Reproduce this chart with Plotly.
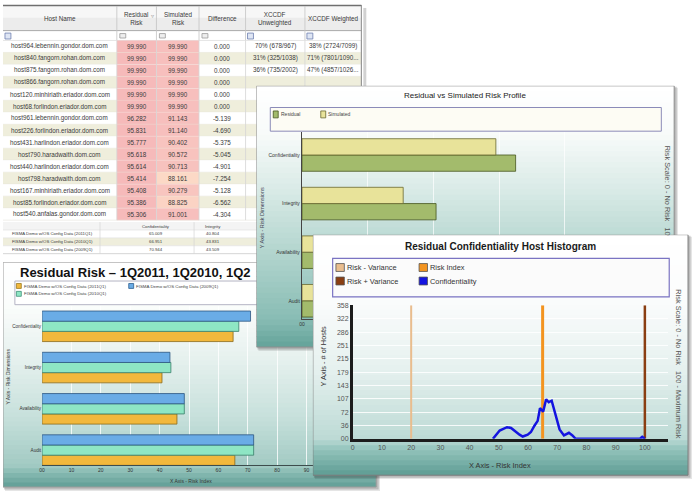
import plotly.graph_objects as go

W, H = 696, 494
FONT = "Liberation Sans, Arial, Helvetica, sans-serif"

# ---------------- data ----------------
table_headers = ["Host Name", "Residual<br>Risk", "Simulated<br>Risk", "Difference",
                 "XCCDF<br>Unweighted", "XCCDF Weighted"]
host_names = [
    "host964.lebennin.gondor.dom.com",
    "host840.fangorn.rohan.dom.com",
    "host875.fangorn.rohan.dom.com",
    "host866.fangorn.rohan.dom.com",
    "host120.minhiriath.eriador.dom.com",
    "host68.forlindon.eriador.dom.com",
    "host961.lebennin.gondor.dom.com",
    "host226.forlindon.eriador.dom.com",
    "host431.harlindon.eriador.dom.com",
    "host790.haradwaith.dom.com",
    "host440.harlindon.eriador.dom.com",
    "host798.haradwaith.dom.com",
    "host167.minhiriath.eriador.dom.com",
    "host85.forlindon.eriador.dom.com",
    "host540.anfalas.gondor.dom.com",
]
host_residual = [99.990, 99.990, 99.990, 99.990, 99.990, 99.990, 96.282, 95.831,
                 95.777, 95.618, 95.614, 95.414, 95.408, 95.386, 95.306]
host_simulated = [99.990, 99.990, 99.990, 99.990, 99.990, 99.990, 91.143, 91.140,
                  90.402, 90.572, 90.713, 88.161, 90.279, 88.825, 91.001]
host_difference = [0.000, 0.000, 0.000, 0.000, 0.000, 0.000, -5.139, -4.690,
                   -5.375, -5.045, -4.901, -7.254, -5.128, -6.562, -4.304]
xccdf_unweighted = ["70% (678/967)", "31% (325/1038)", "36% (735/2002)"]
xccdf_weighted = ["38% (2724/7099)", "71% (7801/1090...", "47% (4857/1026..."]

dimensions = ["Confidentiality", "Integrity", "Availability", "Audit"]
period_names = ["FISMA Demo w/OS Config Data (2011Q1)",
                "FISMA Demo w/OS Config Data (2010Q1)",
                "FISMA Demo w/OS Config Data (2009Q1)"]
risk_2011q1 = [65.009, 40.804, 45.9, 65.6]
risk_2010q1 = [66.951, 43.831, 48.4, 72.0]
risk_2009q1 = [70.944, 43.509, 48.4, 72.0]
bl_x_ticks = ["00", "10", "20", "30", "40", "50", "60", "70", "80", "90", "100"]

profile_residual = [65.009, 40.804, 45.9, 65.6]
profile_simulated = [59.0, 30.8, 41.5, 59.5]
tr_x_ticks = ["00", "20", "40", "60", "80", "100"]

hist_risk_index = [48.0, 48.8, 50.3, 52.8, 54.2, 57.1, 58.2, 59.9, 61.0, 62.2, 63.3,
                   64.1, 65.2, 66.2, 67.1, 68.1, 69.5, 70.8, 72.3, 74.0, 75.2, 76.3,
                   98.3, 99.1, 100.0]
hist_hosts = [0, 7, 22, 31, 29, 11, 6, 11, 18, 35, 48,
              82, 73, 106, 98, 102, 60, 25, 9, 16, 9, 0,
              0, 5, 0]
risk_minus_variance = 20.0
risk_index = 65.0
risk_plus_variance = 100.0
hist_x_ticks = ["0", "10", "20", "30", "40", "50", "60", "70", "80", "90", "100"]
hist_y_ticks = ["00", "36", "72", "107", "143", "179", "215", "251", "286", "322", "358"]

# ---------------- helpers ----------------
shapes, annotations, traces = [], [], []
axes = {}


def hex2rgb(h):
    h = h.lstrip('#')
    return tuple(int(h[i:i + 2], 16) for i in (0, 2, 4))


def mix(c1, c2, t):
    a, b = hex2rgb(c1), hex2rgb(c2)
    return 'rgb(%d,%d,%d)' % tuple(round(a[i] + (b[i] - a[i]) * t) for i in range(3))


def color_at(stops, y):
    if y <= stops[0][0]:
        return mix(stops[0][1], stops[0][1], 0)
    for (ya, ca), (yb, cb) in zip(stops, stops[1:]):
        if y <= yb:
            return mix(ca, cb, (y - ya) / (yb - ya))
    return mix(stops[-1][1], stops[-1][1], 0)


def prect(x0, y0, x1, y1, fill, line=None, lw=0):
    shapes.append(dict(type='rect', xref='paper', yref='paper', x0=x0 / W, x1=x1 / W,
                       y0=1 - y1 / H, y1=1 - y0 / H, fillcolor=fill,
                       line=dict(color=line or 'rgba(0,0,0,0)', width=lw), layer='below'))


def pline(x0, y0, x1, y1, color, lw=1):
    shapes.append(dict(type='line', xref='paper', yref='paper', x0=x0 / W, x1=x1 / W,
                       y0=1 - y0 / H, y1=1 - y1 / H, line=dict(color=color, width=lw),
                       layer='below'))


def ids(n):
    s = '' if n == 1 else str(n)
    return 'x' + s, 'y' + s, 'xaxis' + s, 'yaxis' + s


def wrect(n, x0, y0, x1, y1, fill=None, line=None, lw=0):
    xr, yr, _, _ = ids(n)
    shapes.append(dict(type='rect', xref=xr, yref=yr, x0=x0, x1=x1, y0=y0, y1=y1,
                       fillcolor=fill or 'rgba(0,0,0,0)',
                       line=dict(color=line or 'rgba(0,0,0,0)', width=lw), layer='below'))


def text(x, y, s, size, color='#333', xa='center', ya='middle', angle=0, bold=False,
         family=FONT):
    if bold:
        s = '<b>' + s + '</b>'
    annotations.append(dict(xref='paper', yref='paper', x=x / W, y=1 - y / H, text=s,
                            showarrow=False, xanchor=xa, yanchor=ya, textangle=angle,
                            borderpad=0,
                            font=dict(size=size, color=color, family=family)))


def window(n, x0, y0, x1, y1, stops, border, bands=48):
    SH = 4
    xr, yr, xk, yk = ids(n)
    axes[xk] = dict(domain=[x0 / W, min(1, (x1 + SH) / W)], range=[x0, x1 + SH],
                    anchor=yr, visible=False, fixedrange=True)
    axes[yk] = dict(domain=[max(0, 1 - (y1 + SH) / H), 1 - y0 / H], range=[y1 + SH, y0],
                    anchor=xr, visible=False, fixedrange=True)
    traces.append(go.Scatter(x=[None], y=[None], xaxis=xr, yaxis=yr, mode='markers',
                             showlegend=False, hoverinfo='skip'))
    wrect(n, x0 + 2, y0 + 2, x1 + 4, y1 + 4, 'rgba(0,0,0,0.10)')
    wrect(n, x0 + 1, y0 + 1, x1 + 2.5, y1 + 2.5, 'rgba(0,0,0,0.18)')
    step = (y1 - y0) / bands
    for i in range(bands):
        ya = y0 + i * step
        wrect(n, x0, ya, x1, min(y1, ya + step + 0.8), color_at(stops, ya + step / 2))
    wrect(n, x0, y0, x1, y1, None, border, 1)


def sim_color(v):
    t = min(1.0, max(0.0, (v - 88.0) / 3.0))
    return mix('#fcdac6', '#f7bfbd', t)


# ---------------- table (back-most) ----------------
col_edges = [0, 115, 155, 198, 245, 305, 362]
col_mid = [(a + b) / 2 for a, b in zip(col_edges, col_edges[1:])]
ROW0, ROWH = 37, 12.15
BEIGE = '#efeedc'
TXT = '#3a3a3a'
data_bottom = ROW0 + ROWH * len(host_names)

prect(364, 4, 367, data_bottom + 36, '#d2d2d2')
prect(0, 0, 362, data_bottom + 34, '#ffffff')
prect(0, 2, 362, 27, '#ececec')
prect(0, 2, 362, 14, '#f7f7f7')
pline(0, 1.5, 362, 1.5, '#6f6f6f', 1.5)
pline(0, 27, 362, 27, '#a9a9a9', 1)
pline(0, 37, 362, 37, '#cccccc', 1)
for e in col_edges[1:-1]:
    pline(e, 2, e, 37, '#c4c4c4', 0.8)
for k, e in enumerate(col_edges[:-1]):
    if k in (0, 4, 5):
        prect(e + 2, 29.5, e + 8, 35.5, '#dfe6f4', '#6d7fb0', 0.8)
    else:
        prect(e + 3, 30, e + 9, 34.5, '#eeeeee', '#9a9a9a', 0.8)

for i, name in enumerate(host_names):
    top = ROW0 + i * ROWH
    bot = top + ROWH
    prect(0, top, 362, bot, '#ffffff' if i % 2 == 0 else BEIGE)
    prect(col_edges[1], top, col_edges[2], bot, '#f6baba')
    prect(col_edges[2], top, col_edges[3], bot, sim_color(host_simulated[i]))
    pline(0, bot, 362, bot, '#e3e1d8', 0.6)
for e in col_edges[1:]:
    pline(e, 37, e, data_bottom, '#d6d6d6', 0.8)
pline(362, 1, 362, data_bottom + 34, '#8a8a8a', 1)

for k, h in enumerate(table_headers):
    text(col_mid[k], 15, h, 6.3, TXT)
text(151, 12, "▿", 6, '#999')
for i, name in enumerate(host_names):
    cy = ROW0 + ROWH * (i + 0.5)
    text(col_mid[0], cy, name, 6.3, TXT)
    text(col_mid[1], cy, "%.3f" % host_residual[i], 6.3, TXT)
    text(col_mid[2], cy, "%.3f" % host_simulated[i], 6.3, TXT)
    text(col_mid[3], cy, "%.3f" % host_difference[i], 6.3, TXT)
    if i < len(xccdf_unweighted):
        text(col_mid[4], cy, xccdf_unweighted[i], 6.3, TXT)
        text(col_mid[5], cy, xccdf_weighted[i], 6.3, TXT)

# summary mini table
st = data_bottom + 2
prect(0, st, 362, st + 8, '#f4f4f4')
summary_rows = [(period_names[0], risk_2011q1), (period_names[1], risk_2010q1),
                (period_names[2], risk_2009q1)]
for j, (lab, vals) in enumerate(summary_rows):
    t0 = st + 8 * (j + 1)
    prect(0, t0, 362, t0 + 8, '#ffffff' if j % 2 == 0 else BEIGE)
    pline(0, t0, 362, t0, '#dedede', 0.6)
    text(8, t0 + 4, lab, 4.3, TXT, xa='left')
    text(155, t0 + 4, "%.3f" % vals[0], 4.3, TXT)
    text(212, t0 + 4, "%.3f" % vals[1], 4.3, TXT)
pline(0, st + 32, 362, st + 32, '#cccccc', 0.8)
for e in (98, 193):
    pline(e, st, e, st + 32, '#d4d4d4', 0.7)
text(155, st + 4, dimensions[0], 4.3, TXT)
text(212, st + 4, dimensions[1], 4.3, TXT)

# ---------------- bottom-left window: Residual Risk by quarter ----------------
BL_stops = [(262, '#ffffff'), (305, '#fbfdfc'), (360, '#e6f1ee'), (420, '#c6e0db'),
            (468, '#a2cac3'), (476, '#86b9b1'), (490, '#5f9d95')]
window(1, 0, 262, 377, 490, BL_stops, '#9b9b9b')
text(16, 272.5, "Residual Risk – 1Q2011, 1Q2010, 1Q2", 13, '#111', xa='left', bold=True)
wrect(1, 12, 281, 262, 305, '#ffffff', '#b4b4c4', 1)
bl_colors = ['#f2b83c', '#8ee6c4', '#6aace6']
bl_lines = ['#9a7a20', '#3f8f78', '#2f5f90']
bl_legend_pos = [(13.5, 283.5), (13.5, 291.5), (127, 283.5)]
for (sx, sy), nm, c, lc in zip(bl_legend_pos, period_names, bl_colors, bl_lines):
    wrect(1, sx, sy, sx + 5, sy + 5, c, lc, 0.8)
    text(sx + 6.5, sy + 2.6, nm, 4.4, '#444', xa='left')

xr, yr, xk, yk = ids(2)
axes[xk] = dict(domain=[39.5 / W, 336.3 / W], range=[0, 100], anchor=yr,
                tickvals=[10 * i for i in range(len(bl_x_ticks))], ticktext=bl_x_ticks,
                showgrid=True, gridcolor='rgba(255,255,255,0.8)', gridwidth=1,
                showline=True, linecolor='#3d4d4d', linewidth=1, ticks='',
                zeroline=False, tickfont=dict(size=5, color='#333', family=FONT),
                fixedrange=True)
axes[yk] = dict(domain=[1 - 468 / H, 1 - 306 / H], type='category', categoryorder='array',
                categoryarray=dimensions[::-1], range=[-0.37, 3.5], anchor=xr,
                showgrid=False, ticks='', showline=False, zeroline=False,
                tickfont=dict(size=4.6, color='#333', family=FONT), fixedrange=True)
BW = 0.2467
for vals, c, lc, off in [(risk_2011q1, bl_colors[0], '#8a6a1a', -0.37),
                         (risk_2010q1, bl_colors[1], '#3a7d6a', -0.37 + BW),
                         (risk_2009q1, bl_colors[2], '#2c5680', -0.37 + 2 * BW)]:
    traces.append(go.Bar(orientation='h', x=vals, y=dimensions, xaxis=xr, yaxis=yr,
                         width=BW, offset=off, showlegend=False, hoverinfo='skip',
                         marker=dict(color=c, line=dict(color=lc, width=0.8))))
text(190, 484, "X Axis - Risk Index", 5, '#333')
text(5, 378, "Y Axis - Risk Dimensions", 5, '#333', angle=-90)

# ---------------- top-right window: Residual vs Simulated ----------------
TR_stops = [(83, '#ffffff'), (131, '#f8fbfa'), (190, '#d8eae6'), (260, '#aed2cb'),
            (320, '#88bcb4'), (348, '#63a299')]
window(3, 256, 83, 678, 348, TR_stops, '#8c8c8c')
text(467, 93, "Residual vs Simulated Risk Profile", 8, '#222')
wrect(3, 270, 105, 665, 129, '#fdfcf4', '#8b8bb8', 1)
tr_colors = ['#a3bb6c', '#e8e39a']
tr_lines = ['#46561e', '#6a6830']
for (sx, nm), c, lc in zip([(273, "Residual"), (321, "Simulated")], tr_colors, tr_lines):
    wrect(3, sx, 108.5, sx + 5, 115.5, c, lc, 0.8)
    text(sx + 6.5, 112, nm, 5, '#444', xa='left')
text(262, 217, "Y Axis - Risk Dimensions", 5.5, '#445', angle=-90)
text(671, 143, "Risk Scale: 0 - No Risk\u00a0\u00a0\u00a010", 7.4, '#555', ya='top', angle=90)

xr, yr, xk, yk = ids(4)
axes[xk] = dict(domain=[302 / W, 634 / W], range=[0, 100], anchor=yr,
                tickvals=[20 * i for i in range(len(tr_x_ticks))], ticktext=tr_x_ticks,
                showgrid=True, gridcolor='rgba(255,255,255,0.7)', showline=True,
                linecolor='#4a4a4a', linewidth=1, ticks='', zeroline=False,
                tickfont=dict(size=5, color='#333', family=FONT), fixedrange=True)
axes[yk] = dict(domain=[1 - 320 / H, 1 - 130 / H], type='category', categoryorder='array',
                categoryarray=dimensions[::-1], range=[-0.385, 3.47], anchor=xr,
                showgrid=False, ticks='', showline=True, linecolor='#444', linewidth=1.2,
                zeroline=False, tickfont=dict(size=5, color='#333', family=FONT),
                fixedrange=True)
TW = 0.335
for vals, c, lc, off in [(profile_residual, tr_colors[0], tr_lines[0], -TW),
                         (profile_simulated, tr_colors[1], tr_lines[1], 0.0)]:
    traces.append(go.Bar(orientation='h', x=vals, y=dimensions, xaxis=xr, yaxis=yr,
                         width=TW, offset=off, showlegend=False, hoverinfo='skip',
                         marker=dict(color=c, line=dict(color=lc, width=0.8))))

# ---------------- histogram window (front-most) ----------------
H_stops = [(234, '#ffffff'), (300, '#fbfcfc'), (370, '#e6f1ef'), (441, '#bcdad5'),
           (452, '#92c3bb'), (478, '#5e9c93')]
window(5, 313, 234, 692, 478, H_stops, '#7c7c7c')
text(503, 245.5, "Residual Confidentiality Host Histogram", 10, '#1a1a1a', bold=True)
wrect(5, 333, 258, 673, 297, '#fbfbfb', '#7a73c2', 1.2)
h_colors = {'Risk - Variance': '#e9bd8e', 'Risk + Variance': '#8a3e12',
            'Risk Index': '#f39420', 'Confidentiality': '#1414e0'}
for (sx, sy, nm) in [(336.3, 263.3, 'Risk - Variance'), (336.3, 277, 'Risk + Variance'),
                     (420.3, 263.3, 'Risk Index'), (420.3, 277, 'Confidentiality')]:
    wrect(5, sx, sy, sx + 8.5, sy + 8, h_colors[nm], '#555555', 0.8)
    text(sx + 10, sy + 4, nm, 7.4, '#333', xa='left')
text(323.3, 357.5, "Y Axis - # of Hosts", 7.4, '#333', angle=-90)
text(501.7, 468.3, "X Axis - Risk Index", 7.4, '#333')
text(682, 288, "Risk Scale: 0 - No Risk\u00a0\u00a0\u00a0100 - Maximum Risk", 7.4, '#555',
     ya='top', angle=90)

hist_y_max = float(hist_y_ticks[-1])
xr, yr, xk, yk = ids(6)
axes[xk] = dict(domain=[353.3 / W, 671.7 / W], range=[0, 107.9], anchor=yr,
                tickvals=[10 * i for i in range(len(hist_x_ticks))], ticktext=hist_x_ticks,
                showgrid=False, showline=True, linecolor='#1c1c1c', linewidth=2.5,
                ticks='', zeroline=False, tickfont=dict(size=7, color='#555', family=FONT),
                fixedrange=True)
axes[yk] = dict(domain=[1 - 441 / H, 1 - 305.7 / H], range=[0, hist_y_max], anchor=xr,
                tickvals=[hist_y_max * i / (len(hist_y_ticks) - 1)
                          for i in range(len(hist_y_ticks))],
                ticktext=hist_y_ticks, showgrid=True, gridcolor='rgba(255,255,255,0.85)',
                showline=True, linecolor='#1c1c1c', linewidth=2.5, ticks='',
                zeroline=False, tickfont=dict(size=7, color='#555', family=FONT),
                fixedrange=True)
for val, nm, w in [(risk_minus_variance, 'Risk - Variance', 2),
                   (risk_index, 'Risk Index', 3),
                   (risk_plus_variance, 'Risk + Variance', 2.5)]:
    traces.append(go.Scatter(x=[val, val], y=[0, hist_y_max], xaxis=xr, yaxis=yr,
                             mode='lines', line=dict(color=h_colors[nm], width=w),
                             showlegend=False, hoverinfo='skip'))
traces.append(go.Scatter(x=hist_risk_index, y=hist_hosts, xaxis=xr, yaxis=yr,
                         mode='lines', line=dict(color=h_colors['Confidentiality'], width=2.5),
                         showlegend=False, hoverinfo='skip'))

# ---------------- figure ----------------
fig = go.Figure(traces)
fig.update_layout(width=W, height=H, autosize=False, margin=dict(l=0, r=0, t=0, b=0),
                  paper_bgcolor='white', plot_bgcolor='rgba(0,0,0,0)', showlegend=False,
                  barmode='overlay', shapes=shapes, annotations=annotations,
                  font=dict(family=FONT), **axes)
fig.write_html("out.html", config={'displayModeBar': False})
